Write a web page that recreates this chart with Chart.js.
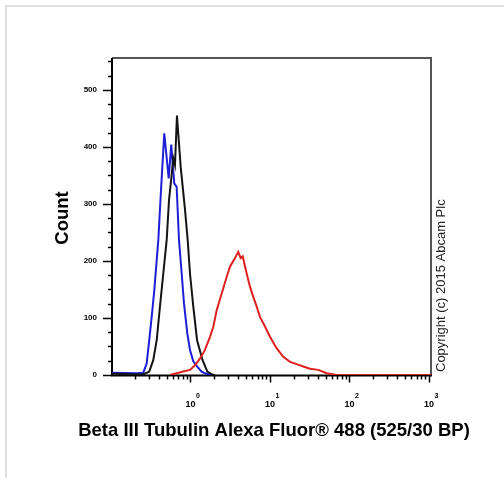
<!DOCTYPE html>
<html>
<head>
<meta charset="utf-8">
<script src="https://cdn.jsdelivr.net/npm/chart.js@4"></script>
<style>
  html, body { margin: 0; padding: 0; background: #fff; }
  canvas { display: block; }
</style>
</head>
<body>
<canvas id="histChart" width="504" height="481"></canvas>
<script>
// fluorescence (x) and event count (y)
const blueFL = [0.103, 0.21, 0.255, 0.281, 0.303, 0.325, 0.351, 0.376, 0.394, 0.426, 0.468, 0.532, 0.573, 0.625, 0.670, 0.717, 0.775, 0.828, 0.912, 0.986, 1.085, 1.21, 1.38, 1.52, 1.76, 2.0];
const blueCount = [4, 3, 4, 20, 61, 102, 149, 202, 237, 325, 424, 345, 404, 336, 330, 237, 178, 126, 73, 44, 24, 15, 6, 3, 0, 0];

const blackFL = [0.103, 0.255, 0.303, 0.340, 0.376, 0.413, 0.455, 0.502, 0.537, 0.580, 0.608, 0.638, 0.676, 0.753, 0.805, 0.853, 0.922, 0.986, 1.085, 1.21, 1.42, 1.63, 1.86, 2.03];
const blackCount = [2, 1, 6, 26, 61, 120, 178, 237, 307, 351, 380, 368, 455, 365, 325, 290, 237, 178, 120, 61, 26, 6, 1, 0];

const redFL = [0.552, 0.811, 0.986, 1.14, 1.32, 1.52, 1.76, 1.94, 2.14, 2.47, 2.85, 3.14, 3.63, 3.99, 4.28, 4.54, 5.09, 5.60, 6.17, 6.80, 7.48, 8.65, 10.0, 12.1, 14.7, 17.9, 21.7, 26.2, 31.8, 40.5, 51.7, 69, 1060];
const redCount = [0, 6, 9, 17, 29, 44, 67, 85, 114, 143, 172, 190, 205, 216, 205, 208, 178, 155, 137, 120, 102, 85, 67, 47, 32, 23, 19, 15, 11, 9, 3, 0, 0];

// axis ticks
const yMajorTicks = [0, 100, 200, 300, 400, 500];
const yTickLabels = ['0', '100', '200', '300', '400', '500'];
const xMajorTicks = [1, 10, 100, 1000];
const xTickExponents = ['0', '1', '2', '3'];

const xTitle = 'Beta III Tubulin Alexa Fluor\u00AE 488 (525/30 BP)';
const yTitle = 'Count';
const copyright = 'Copyright (c) 2015 Abcam Plc';

const FONT = '"Liberation Sans", Arial, sans-serif';

function toPoints(xs, ys) {
  return xs.map((v, i) => ({ x: v, y: ys[i] }));
}

const flowAxes = {
  id: 'flowAxes',
  beforeDraw(chart) {
    const ctx = chart.ctx;
    ctx.save();
    ctx.fillStyle = '#fff';
    ctx.fillRect(0, 0, chart.width, chart.height);
    // light outer border (top + left)
    ctx.strokeStyle = '#e0e0e0';
    ctx.lineWidth = 2;
    ctx.beginPath();
    ctx.moveTo(6, 478);
    ctx.lineTo(6, 6);
    ctx.lineTo(504, 6);
    ctx.stroke();
    ctx.restore();
  },
  beforeDatasetsDraw(chart) {
    const { ctx, chartArea: a, scales: { x, y } } = chart;
    const y0 = y.getPixelForValue(0) + 0.5;
    ctx.save();

    // grey frame top / right
    ctx.strokeStyle = '#555';
    ctx.lineWidth = 2;
    ctx.beginPath();
    ctx.moveTo(a.left, a.top);
    ctx.lineTo(a.right, a.top);
    ctx.lineTo(a.right, y0);
    ctx.stroke();

    // axes
    ctx.strokeStyle = '#000';
    ctx.beginPath();
    ctx.moveTo(a.left, a.top);
    ctx.lineTo(a.left, y0 + 1);
    ctx.moveTo(a.left - 1, y0);
    ctx.lineTo(a.right + 1, y0);
    ctx.stroke();

    // y ticks, every 25
    ctx.lineWidth = 1.5;
    ctx.beginPath();
    for (let v = 0; v <= y.max; v += 25) {
      const py = Math.round(y.getPixelForValue(v)) + 0.5;
      const len = v % 100 === 0 ? 9 : 4;
      ctx.moveTo(a.left, py);
      ctx.lineTo(a.left - len, py);
    }
    // x ticks, log minors
    for (let dec = 0.1; dec < x.max; dec *= 10) {
      for (let m = 1; m <= 9; m++) {
        const v = dec * m;
        if (v < x.min || v > x.max) continue;
        const px = Math.round(x.getPixelForValue(v)) + 0.5;
        const len = m === 1 ? 7 : 4;
        ctx.moveTo(px, y0);
        ctx.lineTo(px, y0 + len);
      }
    }
    ctx.stroke();

    // y tick labels
    ctx.fillStyle = '#000';
    ctx.font = 'bold 8px ' + FONT;
    ctx.textAlign = 'right';
    ctx.textBaseline = 'middle';
    yMajorTicks.forEach((v, i) => {
      ctx.fillText(yTickLabels[i], a.left - 15, y.getPixelForValue(v));
    });

    // x tick labels 10^n
    ctx.textBaseline = 'alphabetic';
    xMajorTicks.forEach((v, i) => {
      const px = x.getPixelForValue(v);
      ctx.font = 'bold 9px ' + FONT;
      ctx.textAlign = 'center';
      ctx.fillText('10', px, 407);
      const w = ctx.measureText('10').width;
      ctx.font = 'bold 7px ' + FONT;
      ctx.textAlign = 'left';
      ctx.fillText(xTickExponents[i], px + w / 2 + 0.5, 398);
    });

    // axis titles
    ctx.font = 'bold 18.5px ' + FONT;
    ctx.textAlign = 'center';
    ctx.fillText(xTitle, 274, 436);
    ctx.save();
    ctx.translate(68, 218);
    ctx.rotate(-Math.PI / 2);
    ctx.fillText(yTitle, 0, 0);
    ctx.restore();

    // copyright
    ctx.save();
    ctx.fillStyle = '#222';
    ctx.font = '13px ' + FONT;
    ctx.translate(445, 372);
    ctx.rotate(-Math.PI / 2);
    ctx.textAlign = 'left';
    ctx.fillText(copyright, 0, 0);
    ctx.restore();

    ctx.restore();
  }
};

const lineStyle = { borderWidth: 2, pointRadius: 0, tension: 0, fill: false };

new Chart(document.getElementById('histChart'), {
  type: 'line',
  data: {
    datasets: [
      { label: 'Beta III Tubulin', data: toPoints(redFL, redCount), borderColor: 'rgb(222, 32, 32)', ...lineStyle },
      { label: 'Isotype control', data: toPoints(blackFL, blackCount), borderColor: 'rgb(20, 20, 20)', ...lineStyle },
      { label: 'Unlabelled', data: toPoints(blueFL, blueCount), borderColor: 'rgb(30, 30, 215)', ...lineStyle },
    ],
  },
  options: {
    responsive: false,
    animation: false,
    layout: { padding: { left: 112, right: 73, top: 58, bottom: 106 } },
    scales: {
      x: { type: 'logarithmic', min: 0.103, max: 1060, display: false },
      y: { type: 'linear', min: 0, max: 556, display: false },
    },
    plugins: {
      legend: { display: false },
      tooltip: { enabled: false },
    },
  },
  plugins: [flowAxes],
});
</script>
</body>
</html>
